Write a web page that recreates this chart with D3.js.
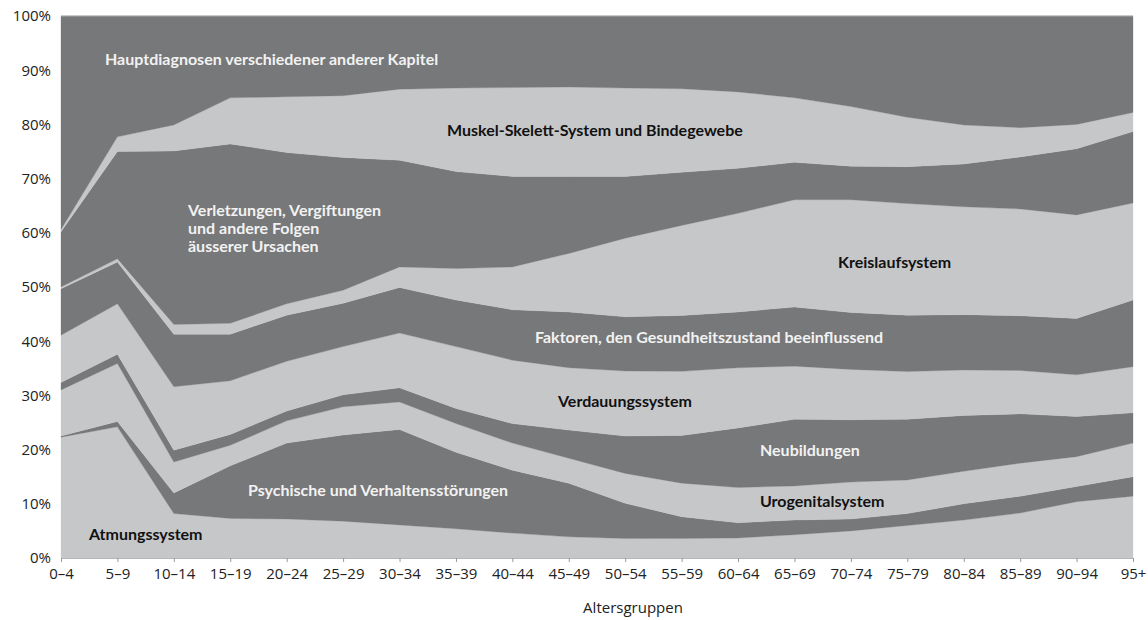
<!DOCTYPE html>
<html>
<head>
<meta charset="utf-8">
<script src="https://cdn.jsdelivr.net/npm/d3@7"></script>
<style>
  body { margin: 0; background: #fff; }
  svg text { font-family: Lato, "Open Sans", sans-serif; }
  svg .tick text, svg .axis-title { font-family: "Open Sans", Lato, sans-serif; }
</style>
</head>
<body>
<div id="chart"></div>
<script>
var ageGroups = ["0–4","5–9","10–14","15–19","20–24","25–29","30–34","35–39","40–44","45–49",
                 "50–54","55–59","60–64","65–69","70–74","75–79","80–84","85–89","90–94","95+"];

// share of cases in %, bottom to top
var atmung      = [22.3,24.2,8.2,7.3,7.2,6.8,6.1,5.4,4.6,3.9,3.6,3.6,3.7,4.3,5.0,6.0,7.0,8.3,10.4,11.4];
var psychisch   = [0.2,1.0,3.8,9.7,14.0,15.9,17.6,14.1,11.6,9.9,6.5,4.0,2.8,2.7,2.2,2.2,3.0,3.1,2.8,3.6];
var urogenital  = [8.5,10.7,5.7,3.8,4.1,5.2,5.1,5.3,5.0,4.6,5.5,6.2,6.5,6.3,6.8,6.2,6.0,6.1,5.5,6.2];
var neubildung  = [1.4,1.7,2.2,2.0,1.8,2.2,2.6,2.8,3.6,5.2,6.9,8.8,11.0,12.3,11.5,11.2,10.3,9.1,7.4,5.6];
var verdauung   = [8.7,9.3,11.7,9.9,9.2,8.9,10.1,11.4,11.7,11.5,12.0,11.8,11.1,9.8,9.3,8.8,8.4,8.0,7.7,8.5];
var faktoren    = [8.6,7.7,9.7,8.6,8.5,8.0,8.4,8.6,9.3,10.3,10.0,10.3,10.3,10.9,10.5,10.4,10.2,10.1,10.4,12.3];
var kreislauf   = [0.3,0.6,1.8,2.0,2.1,2.4,3.8,5.8,7.9,10.8,14.5,16.6,18.2,19.8,20.8,20.6,19.9,19.7,19.1,17.9];
var verletzung  = [10.2,19.8,32.0,33.1,27.9,24.5,19.7,17.9,16.7,14.2,11.4,9.8,8.3,6.9,6.2,6.8,7.9,9.6,12.2,13.2];
var muskel      = [0.4,2.7,4.8,8.5,10.3,11.4,13.1,15.4,16.4,16.5,16.3,15.4,14.1,11.9,11.0,9.1,7.2,5.4,4.5,3.5];
var andere      = [39.4,22.3,20.1,15.1,14.9,14.7,13.5,13.3,13.2,13.1,13.3,13.4,14.0,15.1,16.7,18.7,20.1,20.6,20.0,17.8];

var keys = ["atmung","psychisch","urogenital","neubildung","verdauung","faktoren","kreislauf","verletzung","muskel","andere"];
var seriesValues = [atmung,psychisch,urogenital,neubildung,verdauung,faktoren,kreislauf,verletzung,muskel,andere];

var rows = ageGroups.map(function(g, i) {
    var r = { group: g };
    keys.forEach(function(k, j) { r[k] = seriesValues[j][i]; });
    return r;
});

var width = 1148, height = 620;
var dark = "#777879", light = "#c6c7c9";

var svg = d3.select("#chart").append("svg")
    .attr("width", width)
    .attr("height", height);

var x = d3.scalePoint().domain(ageGroups).range([61, 1133]);
var y = d3.scaleLinear().domain([0, 1]).range([558, 16]);

var stack = d3.stack().keys(keys).offset(d3.stackOffsetExpand);
var layers = stack(rows);

var area = d3.area()
    .x(function(d) { return x(d.data.group); })
    .y0(function(d) { return y(d[0]); })
    .y1(function(d) { return y(d[1]); });

svg.append("g").selectAll("path")
    .data(layers)
    .enter()
    .append("path")
    .attr("d", area)
    .attr("fill", function(d, i) { return i % 2 === 0 ? light : dark; })
    .attr("stroke", function(d, i) { return i % 2 === 0 ? light : dark; })
    .attr("stroke-width", 0.3);

// top edge of the plot
svg.append("line")
    .attr("x1", 61).attr("x2", 1133)
    .attr("y1", y(1)).attr("y2", y(1))
    .attr("stroke", "#a8a9ab").attr("stroke-width", 1);

// y axis
var yAxis = svg.append("g")
    .attr("transform", "translate(61,0)")
    .call(d3.axisLeft(y).tickValues(d3.range(0, 11).map(function(v) { return v / 10; }))
        .tickFormat(d3.format(".0%")).tickSize(0).tickPadding(10));
yAxis.select(".domain").remove();
yAxis.selectAll("text").attr("font-size", 15).attr("fill", "#222");

// x axis
var xAxis = svg.append("g")
    .attr("transform", "translate(0,558)")
    .call(d3.axisBottom(x).tickSize(4).tickPadding(6));
xAxis.select(".domain").attr("stroke", "#b5b6b8");
xAxis.selectAll(".tick line").attr("stroke", "#9a9a9a");
xAxis.selectAll("text").attr("font-size", 15).attr("fill", "#222");

svg.append("text")
    .attr("class", "axis-title")
    .attr("x", 633).attr("y", 609)
    .attr("text-anchor", "middle")
    .attr("dominant-baseline", "middle")
    .attr("font-size", 15).attr("fill", "#222")
    .text("Altersgruppen");

// band labels
var labels = [
    { t: ["Hauptdiagnosen verschiedener anderer Kapitel"], x: 105, y: 61, c: "#f2f2f2" },
    { t: ["Muskel-Skelett-System und Bindegewebe"], x: 447, y: 132, c: "#111" },
    { t: ["Verletzungen, Vergiftungen", "und andere Folgen", "äusserer Ursachen"], x: 188, y: 212, c: "#f2f2f2" },
    { t: ["Kreislaufsystem"], x: 838, y: 264, c: "#111" },
    { t: ["Faktoren, den Gesundheitszustand beeinflussend"], x: 535, y: 339, c: "#f2f2f2" },
    { t: ["Verdauungssystem"], x: 558, y: 403, c: "#111" },
    { t: ["Neubildungen"], x: 760, y: 452, c: "#f2f2f2" },
    { t: ["Psychische und Verhaltensstörungen"], x: 248, y: 492, c: "#f2f2f2" },
    { t: ["Urogenitalsystem"], x: 760, y: 503, c: "#111" },
    { t: ["Atmungssystem"], x: 89, y: 536, c: "#111" }
];

labels.forEach(function(l) {
    var txt = svg.append("text")
        .attr("x", l.x).attr("y", l.y)
        .attr("font-size", 16).attr("font-weight", "bold")
        .attr("dominant-baseline", "middle")
        .attr("fill", l.c);
    l.t.forEach(function(line, i) {
        txt.append("tspan").attr("x", l.x).attr("dy", i === 0 ? 0 : 18).text(line);
    });
});
</script>
</body>
</html>
